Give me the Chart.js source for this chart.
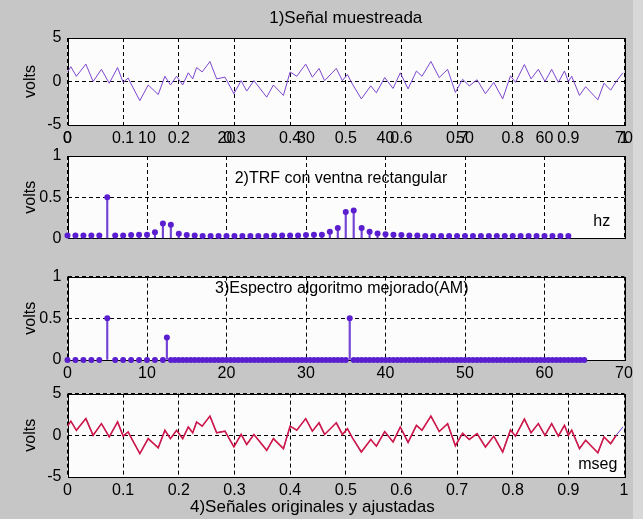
<!DOCTYPE html>
<html>
<head>
<meta charset="utf-8">
<script src="https://cdn.jsdelivr.net/npm/chart.js@4.4.1/dist/chart.umd.min.js"></script>
<style>
  html, body { margin: 0; padding: 0; }
  body { width: 643px; height: 519px; background: #c6c6c6; position: relative; overflow: hidden; }
  .panel { position: absolute; left: 0; width: 643px; }
  #orilla { position: absolute; left: 633px; top: 0; width: 10px; height: 519px; background: #d8d8d8; }
</style>
</head>
<body>
<div id="orilla"></div>
<div class="panel" style="top:0;height:155px"><canvas id="c1"></canvas></div>
<div class="panel" style="top:131px;height:123px"><canvas id="c2"></canvas></div>
<div class="panel" style="top:261px;height:129px"><canvas id="c3"></canvas></div>
<div class="panel" style="top:378px;height:141px"><canvas id="c4"></canvas></div>
<script>
const tSenal = [0, 0.006, 0.016, 0.033, 0.046, 0.061, 0.075, 0.09, 0.1, 0.109,
  0.116, 0.13, 0.145, 0.163, 0.175, 0.185, 0.196, 0.207, 0.217, 0.225,
  0.232, 0.242, 0.256, 0.268, 0.283, 0.299, 0.312, 0.322, 0.335, 0.358,
  0.37, 0.388, 0.4, 0.412, 0.428, 0.44, 0.452, 0.462, 0.483, 0.494,
  0.503, 0.512, 0.528, 0.545, 0.555, 0.57, 0.585, 0.598, 0.612, 0.627,
  0.637, 0.653, 0.668, 0.683, 0.697, 0.71, 0.722, 0.736, 0.751, 0.766,
  0.782, 0.796, 0.805, 0.821, 0.833, 0.846, 0.858, 0.87, 0.882, 0.893,
  0.9, 0.906, 0.92, 0.931, 0.953, 0.964, 0.976, 0.986, 0.998];
const vSenal = [1.1, 1.7, 0.6, 2.0, 0.0, 1.4, -0.2, 1.6, -0.1, 0.4,
  -0.5, -2.2, -0.4, -1.5, 0.6, -0.4, 0.6, -0.4, 1.0, 0.3,
  1.6, 1.1, 2.3, 0.3, 0.5, -1.4, 0.1, -1.1, 0.1, -1.8,
  -0.4, -1.6, 1.1, 0.6, 2.0, 0.5, 1.5, 0.1, 1.5, 0.1,
  0.8, -0.3, -2.0, -0.5, -1.3, 0.45, -0.8, 1.0, -0.85, 1.2,
  0.6, 2.3, 0.45, 1.4, -1.25, 0.25, -0.5, 0.2, -1.4, -0.1,
  -2.0, 0.65, -0.1, 1.95, 0.3, 1.4, 0.0, 1.4, -0.1, 1.2,
  0.0, 0.6, -1.6, -0.6, -2.1, -0.2, -1.0, 0.0, 1.0];

// TRF con ventana rectangular
const freqTRF = [0, 1, 2, 3, 4, 5, 6, 7, 8, 9, 10, 11, 12, 13, 14, 15,
  16, 17, 18, 19, 20, 21, 22, 23, 24, 25, 26, 27, 28, 29, 30, 31,
  32, 33, 34, 35, 36, 37, 38, 39, 40, 41, 42, 43, 44, 45, 46, 47,
  48, 49, 50, 51, 52, 53, 54, 55, 56, 57, 58, 59, 60, 61, 62, 63];
const ampTRF = [0.035, 0.035, 0.035, 0.035, 0.035, 0.5, 0.035, 0.035, 0.04, 0.045, 0.045, 0.075, 0.18, 0.165, 0.055, 0.04,
  0.035, 0.03, 0.03, 0.03, 0.03, 0.03, 0.03, 0.03, 0.03, 0.03, 0.035, 0.035, 0.035, 0.035, 0.04, 0.045,
  0.045, 0.08, 0.125, 0.32, 0.34, 0.125, 0.08, 0.06, 0.05, 0.045, 0.04, 0.035, 0.035, 0.03, 0.03, 0.03,
  0.03, 0.03, 0.03, 0.03, 0.03, 0.03, 0.03, 0.03, 0.03, 0.03, 0.03, 0.03, 0.03, 0.03, 0.03, 0.03];

// espectro con el algoritmo mejorado (AM)
const freqAM = [0, 1, 2, 3, 4, 5, 6, 7, 8, 9, 10, 11, 12,
  12.5, 13, 13.5, 14, 14.5, 15, 15.5, 16, 16.5, 17, 17.5, 18, 18.5, 19, 19.5, 20,
  20.5, 21, 21.5, 22, 22.5, 23, 23.5, 24, 24.5, 25, 25.5, 26, 26.5, 27, 27.5, 28, 28.5, 29, 29.5, 30,
  30.5, 31, 31.5, 32, 32.5, 33, 33.5, 34, 34.5, 35, 35.5, 36, 36.5, 37, 37.5, 38, 38.5, 39, 39.5, 40,
  40.5, 41, 41.5, 42, 42.5, 43, 43.5, 44, 44.5, 45, 45.5, 46, 46.5, 47, 47.5, 48, 48.5, 49, 49.5, 50,
  50.5, 51, 51.5, 52, 52.5, 53, 53.5, 54, 54.5, 55, 55.5, 56, 56.5, 57, 57.5, 58, 58.5, 59, 59.5, 60,
  60.5, 61, 61.5, 62, 62.5, 63, 63.5, 64, 64.5, 65];
const ampAM = [0, 0, 0, 0, 0, 0.5, 0, 0, 0, 0, 0, 0, 0,
  0.27, 0, 0, 0, 0, 0, 0, 0, 0, 0, 0, 0, 0, 0, 0, 0,
  0, 0, 0, 0, 0, 0, 0, 0, 0, 0, 0, 0, 0, 0, 0, 0, 0, 0, 0, 0,
  0, 0, 0, 0, 0, 0, 0, 0, 0, 0, 0.5, 0, 0, 0, 0, 0, 0, 0, 0, 0,
  0, 0, 0, 0, 0, 0, 0, 0, 0, 0, 0, 0, 0, 0, 0, 0, 0, 0, 0, 0,
  0, 0, 0, 0, 0, 0, 0, 0, 0, 0, 0, 0, 0, 0, 0, 0, 0, 0, 0, 0,
  0, 0, 0, 0, 0, 0, 0, 0, 0, 0];

// marcas de los ejes
const ticksTiempo = [0, 0.1, 0.2, 0.3, 0.4, 0.5, 0.6, 0.7, 0.8, 0.9, 1];
const ticksFreq = [0, 10, 20, 30, 40, 50, 60, 70];
const ticksVolt = [-5, 0, 5];
const ticksEspectro = [0, 0.5, 1];

Chart.defaults.font.family = '"Liberation Sans", Arial, sans-serif';
Chart.defaults.font.size = 16;
Chart.defaults.color = '#000';

const puntos = (xs, ys) => xs.map((x, i) => ({x: x, y: ys[i]}));

// fondo blanco del area y recuadro negro
const marco = {
  id: 'marco',
  beforeDraw(chart) {
    const {ctx, chartArea: a} = chart;
    ctx.save();
    ctx.fillStyle = '#fcfcfc';
    ctx.fillRect(a.left, a.top, a.width, a.height);
    ctx.restore();
  },
  beforeDatasetsDraw(chart) {
    const {ctx, chartArea: a} = chart;
    ctx.save();
    ctx.strokeStyle = '#000';
    ctx.lineWidth = 1;
    ctx.strokeRect(Math.round(a.left) + 0.5, Math.round(a.top) + 0.5, Math.round(a.width), Math.round(a.height));
    ctx.restore();
  }
};

// textos en coordenadas de datos
function textos(items) {
  return {
    id: 'textos',
    afterDraw(chart) {
      const ctx = chart.ctx;
      const sx = chart.scales.x, sy = chart.scales.y;
      ctx.save();
      ctx.fillStyle = '#000';
      ctx.textAlign = 'center';
      ctx.textBaseline = 'middle';
      items.forEach(it => {
        ctx.font = (it.size || 16) + 'px "Liberation Sans", Arial, sans-serif';
        ctx.fillText(it.text, sx.getPixelForValue(it.x), sy.getPixelForValue(it.y));
      });
      ctx.restore();
    }
  };
}

function ejeX(min, max, marcas, pos, alto, mostrar) {
  return {
    type: 'linear', position: pos, min: min, max: max, offset: false,
    afterBuildTicks: s => { s.ticks = marcas.map(v => ({value: v})); },
    afterFit: s => { s.height = alto; },
    ticks: { display: mostrar, padding: pos === 'top' ? 8 : 4, autoSkip: false, maxRotation: 0, callback: v => String(v) },
    grid: { color: '#000', drawTicks: false, offset: false },
    border: { display: false, dash: [4, 3] }
  };
}

function ejeY(min, max, marcas) {
  return {
    min: min, max: max,
    afterBuildTicks: s => { s.ticks = marcas.map(v => ({value: v})); },
    afterFit: s => { s.width = 67.5; },
    ticks: { padding: 6, callback: v => String(v) },
    grid: { color: '#000', drawTicks: false },
    border: { display: false, dash: [4, 3] },
    title: { display: true, text: 'volts', padding: {top: 21, bottom: 0} }
  };
}

const base = {
  responsive: true,
  maintainAspectRatio: false,
  animation: false,
  events: [],
  plugins: { legend: { display: false }, tooltip: { enabled: false } }
};

// 1) señal muestreada
new Chart(document.getElementById('c1'), {
  type: 'line',
  data: { datasets: [{
    data: puntos(tSenal, vSenal), borderColor: '#7d45cf', borderWidth: 1, pointRadius: 0, tension: 0
  }] },
  options: Object.assign({}, base, {
    layout: { padding: { left: 0, right: 19, top: 0, bottom: 0 } },
    plugins: Object.assign({}, base.plugins, {
      title: { display: true, text: '1)Señal muestreada', fullSize: false, font: {size: 17, weight: 'normal'}, padding: {top: 8, bottom: 9.6} }
    }),
    scales: { x: ejeX(0, 1, ticksTiempo, 'bottom', 30, true), y: ejeY(-5, 5, ticksVolt) }
  }),
  plugins: [marco]
});

// 2) TRF con ventana rectangular
new Chart(document.getElementById('c2'), {
  type: 'bar',
  data: { datasets: [
    { type: 'scatter', data: puntos(freqTRF, ampTRF), pointRadius: 3, pointBackgroundColor: '#5a1ed0', pointBorderWidth: 0, clip: false },
    { type: 'bar', data: puntos(freqTRF, ampTRF), backgroundColor: '#7444d6', barThickness: 1.5, borderWidth: 0, grouped: false }
  ] },
  options: Object.assign({}, base, {
    layout: { padding: { left: 0, right: 19, top: 0, bottom: 12 } },
    scales: { x: ejeX(0, 70, ticksFreq, 'top', 25, true), y: ejeY(0, 1, ticksEspectro) }
  }),
  plugins: [marco, textos([
    {x: 34.4, y: 0.72, text: '2)TRF con ventna rectangular'},
    {x: 67.2, y: 0.21, text: 'hz'}
  ])]
});

// 3) espectro algoritmo mejorado
new Chart(document.getElementById('c3'), {
  type: 'bar',
  data: { datasets: [
    { type: 'scatter', data: puntos(freqAM, ampAM), pointRadius: 3, pointBackgroundColor: '#5a1ed0', pointBorderWidth: 0, clip: false },
    { type: 'bar', data: puntos(freqAM, ampAM), backgroundColor: '#7444d6', barThickness: 1.5, borderWidth: 0, grouped: false }
  ] },
  options: Object.assign({}, base, {
    layout: { padding: { left: 0, right: 19, top: 10, bottom: 0 } },
    scales: { x: ejeX(0, 70, ticksFreq, 'bottom', 30, true), y: ejeY(0, 1, ticksEspectro) }
  }),
  plugins: [marco, textos([
    {x: 34.5, y: 0.86, text: '3)Espectro algoritmo mejorado(AM)'}
  ])]
});

// 4) señal original y señal ajustada encima
new Chart(document.getElementById('c4'), {
  type: 'line',
  data: { datasets: [
    { data: puntos(tSenal.slice(0, -1), vSenal.slice(0, -1)), borderColor: '#d01848', borderWidth: 1.6, pointRadius: 0, tension: 0 },
    { data: puntos(tSenal, vSenal), borderColor: '#6a3ad8', borderWidth: 1, pointRadius: 0, tension: 0 }
  ] },
  options: Object.assign({}, base, {
    layout: { padding: { left: 0, right: 19, top: 10, bottom: 0 } },
    scales: { x: ejeX(0, 1, ticksTiempo, 'bottom', 42, true), y: ejeY(-5, 5, ticksVolt) }
  }),
  plugins: [marco, textos([
    {x: 0.953, y: -3.5, text: 'mseg'},
    {x: 0.44, y: -8.6, text: '4)Señales originales y ajustadas', size: 17}
  ])]
});
</script>
</body>
</html>
